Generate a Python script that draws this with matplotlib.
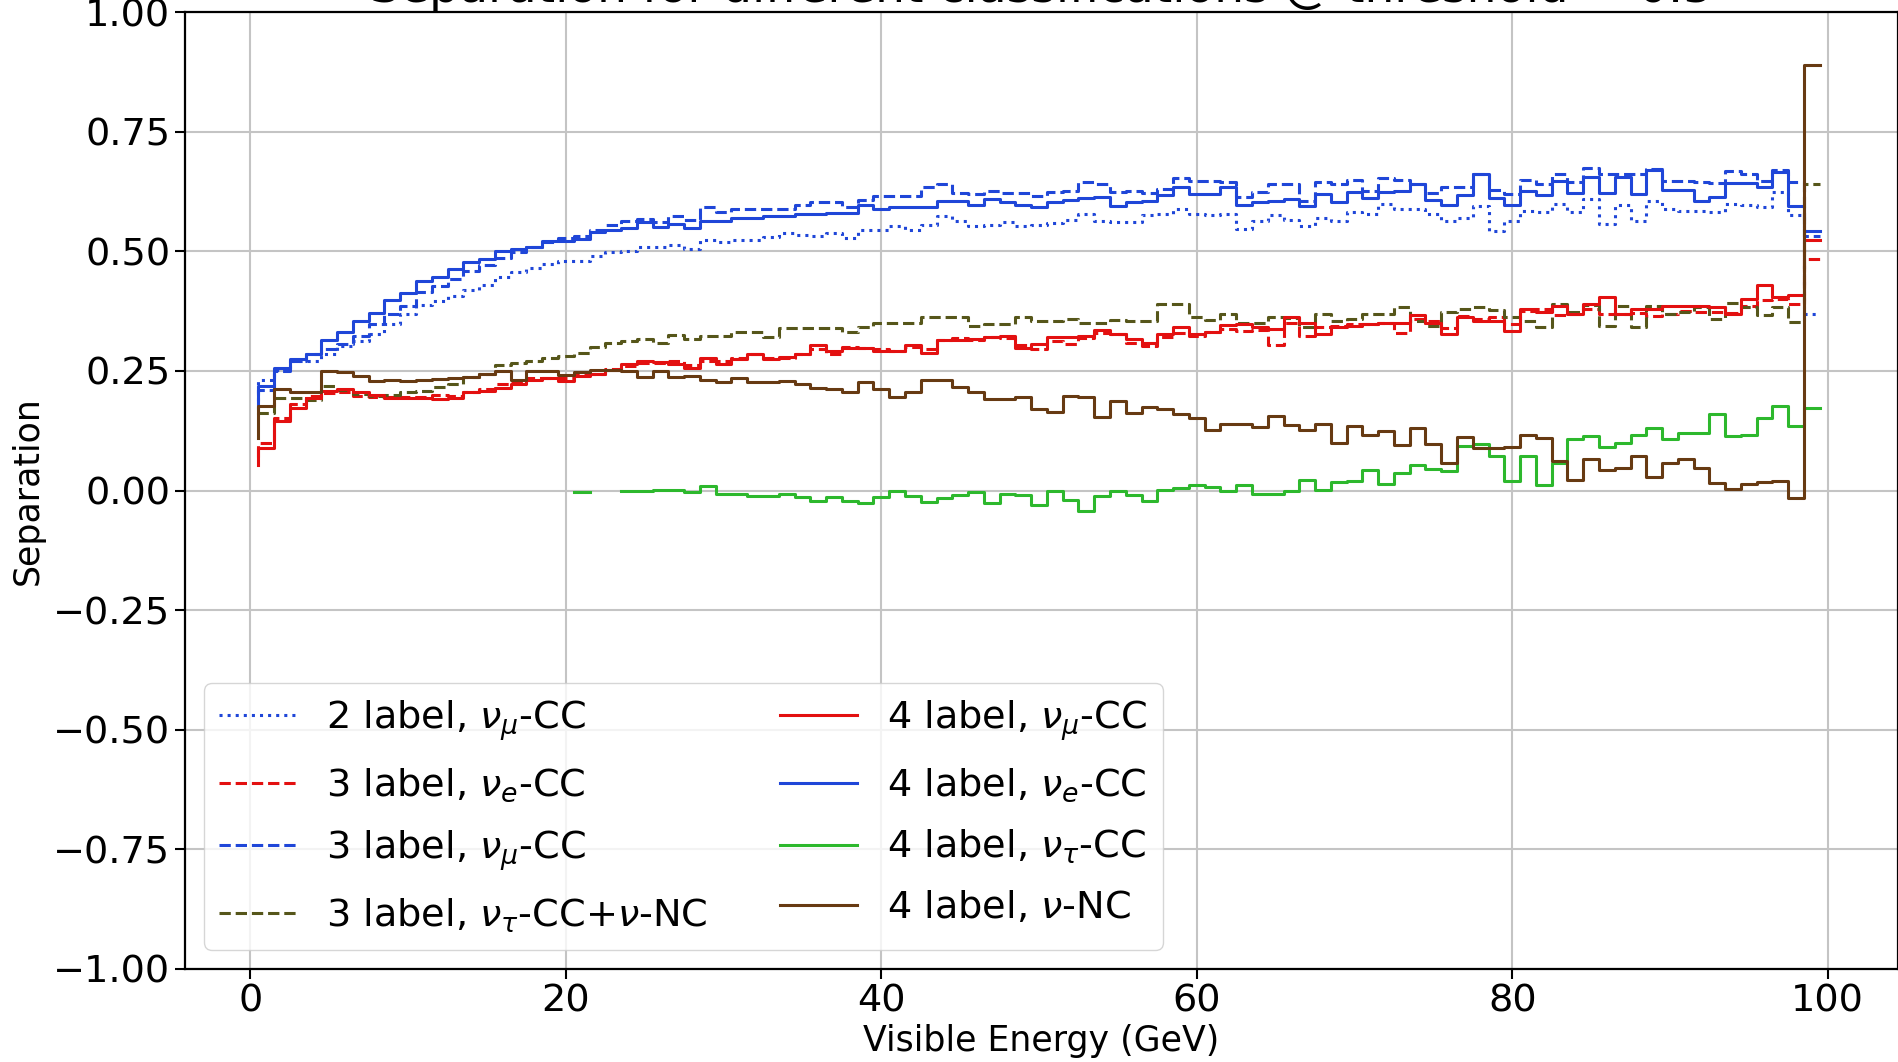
import numpy as np
import matplotlib
matplotlib.use('Agg')
import matplotlib.pyplot as plt

nan = np.nan

# bin positions (GeV), step drawn 'pre' style
energy = np.arange(100) + 0.5

sep_2l_numu = [0.17, 0.23, 0.251, 0.271, 0.271, 0.285, 0.302, 0.313, 0.328, 0.349,
               0.369, 0.388, 0.397, 0.407, 0.419, 0.430, 0.447, 0.456, 0.465, 0.473,
               0.479, 0.480, 0.491, 0.498, 0.501, 0.510, 0.508, 0.514, 0.505, 0.524,
               0.519, 0.524, 0.524, 0.529, 0.538, 0.535, 0.533, 0.538, 0.528, 0.545,
               0.545, 0.552, 0.545, 0.556, 0.573, 0.564, 0.552, 0.554, 0.561, 0.552,
               0.556, 0.559, 0.566, 0.577, 0.563, 0.561, 0.561, 0.575, 0.577, 0.589,
               0.577, 0.575, 0.578, 0.547, 0.563, 0.575, 0.566, 0.552, 0.570, 0.564,
               0.582, 0.577, 0.599, 0.589, 0.589, 0.577, 0.564, 0.570, 0.594, 0.543,
               0.564, 0.584, 0.582, 0.599, 0.582, 0.610, 0.557, 0.596, 0.564, 0.605,
               0.589, 0.585, 0.584, 0.582, 0.599, 0.596, 0.592, 0.624, 0.575, 0.370]

sep_3l_nue = [0.07, 0.10, 0.152, 0.180, 0.198, 0.203, 0.205, 0.198, 0.196, 0.196,
              0.196, 0.196, 0.200, 0.198, 0.207, 0.212, 0.222, 0.226, 0.235, 0.236,
              0.235, 0.243, 0.243, 0.253, 0.260, 0.267, 0.267, 0.271, 0.263, 0.271,
              0.271, 0.278, 0.285, 0.278, 0.278, 0.285, 0.295, 0.285, 0.300, 0.297,
              0.295, 0.291, 0.300, 0.295, 0.314, 0.318, 0.314, 0.320, 0.318, 0.304,
              0.295, 0.313, 0.306, 0.318, 0.330, 0.327, 0.309, 0.302, 0.320, 0.330,
              0.323, 0.332, 0.337, 0.334, 0.335, 0.304, 0.351, 0.323, 0.341, 0.344,
              0.349, 0.349, 0.351, 0.330, 0.358, 0.355, 0.339, 0.365, 0.358, 0.362,
              0.349, 0.376, 0.379, 0.367, 0.369, 0.379, 0.369, 0.369, 0.372, 0.365,
              0.369, 0.376, 0.374, 0.374, 0.372, 0.386, 0.398, 0.400, 0.390, 0.484]

sep_3l_numu = [0.20, 0.21, 0.250, 0.271, 0.285, 0.295, 0.306, 0.323, 0.348, 0.369,
               0.386, 0.414, 0.428, 0.442, 0.458, 0.472, 0.487, 0.498, 0.508, 0.519,
               0.527, 0.533, 0.545, 0.554, 0.564, 0.568, 0.561, 0.573, 0.566, 0.592,
               0.582, 0.589, 0.589, 0.589, 0.589, 0.596, 0.603, 0.603, 0.592, 0.608,
               0.615, 0.615, 0.615, 0.634, 0.640, 0.622, 0.619, 0.627, 0.622, 0.622,
               0.615, 0.624, 0.627, 0.645, 0.640, 0.624, 0.627, 0.622, 0.631, 0.654,
               0.648, 0.647, 0.645, 0.613, 0.624, 0.641, 0.640, 0.606, 0.645, 0.641,
               0.649, 0.627, 0.654, 0.649, 0.641, 0.622, 0.634, 0.634, 0.662, 0.628,
               0.620, 0.649, 0.641, 0.662, 0.645, 0.675, 0.662, 0.662, 0.662, 0.672,
               0.648, 0.647, 0.645, 0.642, 0.668, 0.662, 0.648, 0.670, 0.645, 0.533]

sep_3l_nutau_nc = [0.16, 0.163, 0.193, 0.193, 0.189, 0.219, 0.210, 0.201, 0.198, 0.200,
                   0.205, 0.208, 0.216, 0.222, 0.237, 0.243, 0.263, 0.266, 0.271, 0.278,
                   0.281, 0.288, 0.299, 0.309, 0.313, 0.316, 0.309, 0.325, 0.316, 0.323,
                   0.323, 0.332, 0.332, 0.320, 0.339, 0.339, 0.339, 0.339, 0.332, 0.341,
                   0.351, 0.351, 0.351, 0.362, 0.362, 0.362, 0.344, 0.349, 0.349, 0.362,
                   0.355, 0.355, 0.358, 0.351, 0.351, 0.356, 0.355, 0.355, 0.390, 0.390,
                   0.362, 0.356, 0.370, 0.351, 0.351, 0.362, 0.360, 0.341, 0.370, 0.355,
                   0.358, 0.369, 0.370, 0.383, 0.355, 0.344, 0.374, 0.379, 0.383, 0.377,
                   0.363, 0.355, 0.342, 0.390, 0.374, 0.388, 0.344, 0.386, 0.342, 0.386,
                   0.369, 0.374, 0.383, 0.358, 0.393, 0.384, 0.367, 0.383, 0.353, 0.640]

sep_4l_numu = [0.054, 0.089, 0.145, 0.173, 0.194, 0.208, 0.212, 0.205, 0.200, 0.194,
               0.194, 0.194, 0.191, 0.194, 0.205, 0.208, 0.215, 0.222, 0.230, 0.236,
               0.229, 0.240, 0.243, 0.251, 0.265, 0.270, 0.268, 0.265, 0.257, 0.277,
               0.265, 0.274, 0.285, 0.274, 0.279, 0.286, 0.304, 0.291, 0.297, 0.297,
               0.292, 0.291, 0.304, 0.288, 0.314, 0.314, 0.316, 0.320, 0.323, 0.297,
               0.307, 0.321, 0.320, 0.323, 0.335, 0.328, 0.316, 0.309, 0.328, 0.342,
               0.328, 0.332, 0.346, 0.349, 0.341, 0.337, 0.362, 0.351, 0.328, 0.341,
               0.344, 0.348, 0.351, 0.351, 0.367, 0.351, 0.328, 0.363, 0.355, 0.355,
               0.334, 0.379, 0.374, 0.386, 0.370, 0.390, 0.404, 0.369, 0.379, 0.379,
               0.386, 0.386, 0.386, 0.383, 0.370, 0.400, 0.430, 0.405, 0.409, 0.523]

sep_4l_nue = [0.18, 0.219, 0.257, 0.274, 0.286, 0.314, 0.332, 0.355, 0.372, 0.398,
              0.412, 0.439, 0.447, 0.463, 0.477, 0.484, 0.501, 0.505, 0.510, 0.521,
              0.522, 0.526, 0.540, 0.545, 0.549, 0.561, 0.550, 0.557, 0.549, 0.564,
              0.564, 0.570, 0.570, 0.573, 0.573, 0.577, 0.577, 0.580, 0.580, 0.596,
              0.589, 0.592, 0.592, 0.592, 0.605, 0.605, 0.596, 0.610, 0.603, 0.596,
              0.592, 0.603, 0.608, 0.612, 0.613, 0.594, 0.603, 0.605, 0.617, 0.634,
              0.619, 0.620, 0.634, 0.596, 0.603, 0.606, 0.610, 0.594, 0.619, 0.603,
              0.624, 0.612, 0.624, 0.627, 0.641, 0.608, 0.596, 0.617, 0.662, 0.612,
              0.596, 0.627, 0.617, 0.647, 0.622, 0.656, 0.622, 0.656, 0.619, 0.670,
              0.628, 0.628, 0.606, 0.613, 0.642, 0.642, 0.634, 0.665, 0.594, 0.543]

sep_4l_nutau = [nan, nan, nan, nan, nan, nan, nan, nan, nan, nan,
                nan, nan, nan, nan, nan, nan, nan, nan, nan, nan,
                nan, -0.003, nan, nan, 0.000, 0.000, 0.002, 0.002, -0.003, 0.009,
                -0.007, -0.007, -0.012, -0.012, -0.007, -0.014, -0.021, -0.014, -0.021, -0.026,
                -0.014, -0.001, -0.012, -0.024, -0.015, -0.010, -0.003, -0.026, -0.007, -0.010,
                -0.031, -0.001, -0.019, -0.042, -0.012, -0.001, -0.010, -0.022, 0.002, 0.006,
                0.011, 0.007, 0.000, 0.011, -0.008, -0.008, 0.000, 0.021, 0.002, 0.018,
                0.020, 0.042, 0.014, 0.037, 0.054, 0.044, 0.041, 0.093, 0.098, 0.072,
                0.020, 0.072, 0.011, 0.058, 0.107, 0.114, 0.091, 0.100, 0.117, 0.130,
                0.107, 0.121, 0.121, 0.161, 0.114, 0.116, 0.152, 0.177, 0.135, 0.173]

sep_4l_nc = [0.11, 0.177, 0.212, 0.207, 0.207, 0.249, 0.247, 0.240, 0.229, 0.231,
             0.229, 0.231, 0.233, 0.235, 0.237, 0.243, 0.249, 0.230, 0.249, 0.249,
             0.242, 0.247, 0.251, 0.251, 0.250, 0.237, 0.250, 0.237, 0.240, 0.230,
             0.226, 0.236, 0.226, 0.226, 0.228, 0.223, 0.215, 0.212, 0.207, 0.226,
             0.212, 0.196, 0.207, 0.230, 0.230, 0.216, 0.207, 0.191, 0.191, 0.196,
             0.170, 0.165, 0.198, 0.196, 0.154, 0.187, 0.163, 0.175, 0.170, 0.159,
             0.152, 0.126, 0.140, 0.140, 0.133, 0.156, 0.137, 0.126, 0.140, 0.100,
             0.135, 0.117, 0.124, 0.095, 0.131, 0.098, 0.058, 0.112, 0.089, 0.089,
             0.091, 0.117, 0.110, 0.061, 0.023, 0.065, 0.042, 0.047, 0.072, 0.028,
             0.058, 0.065, 0.047, 0.016, 0.004, 0.013, 0.018, 0.020, -0.015, 0.89]

BLUE = '#1f46d8'
RED = '#e31010'
GREEN = '#2db82d'
BROWN = '#673a12'
OLIVE = '#56561a'

series = [
    (sep_2l_numu, BLUE, ':', r'2 label, $\nu_\mu$-CC'),
    (sep_3l_nue, RED, '--', r'3 label, $\nu_e$-CC'),
    (sep_3l_numu, BLUE, '--', r'3 label, $\nu_\mu$-CC'),
    (sep_3l_nutau_nc, OLIVE, '--', r'3 label, $\nu_\tau$-CC+$\nu$-NC'),
    (sep_4l_numu, RED, '-', r'4 label, $\nu_\mu$-CC'),
    (sep_4l_nue, BLUE, '-', r'4 label, $\nu_e$-CC'),
    (sep_4l_nutau, GREEN, '-', r'4 label, $\nu_\tau$-CC'),
    (sep_4l_nc, BROWN, '-', r'4 label, $\nu$-NC'),
]

fig = plt.figure(figsize=(18.99, 10.62), dpi=100)
ax = fig.add_axes([0.0974, 0.0876, 0.902, 0.901])

for vals, col, ls, lab in series:
    ax.step(energy, vals, where='pre', color=col, linestyle=ls, linewidth=2.2, label=lab)

ax.set_xlim(-4.15, 104.45)
ax.set_ylim(-1.0, 1.0)
ax.set_yticks(np.arange(-1.0, 1.01, 0.25))
ax.set_xticks([0, 20, 40, 60, 80, 100])
ax.grid(True, color='#c4c4c4', linewidth=1.5)
ax.tick_params(labelsize=27.5, length=7, width=1.5)
for sp in ax.spines.values():
    sp.set_linewidth(1.6)

ax.set_xlabel('Visible Energy (GeV)', fontsize=25, labelpad=3)
ax.set_ylabel('Separation', fontsize=25, labelpad=6)
ax.set_title('Separation for different classifications @ threshold = 0.5', fontsize=34, pad=3.5)

ax.legend(loc='lower left', ncol=2, fontsize=27.5, framealpha=0.8,
          labelspacing=0.62, columnspacing=1.9)

fig.savefig('out.png', dpi=100)
